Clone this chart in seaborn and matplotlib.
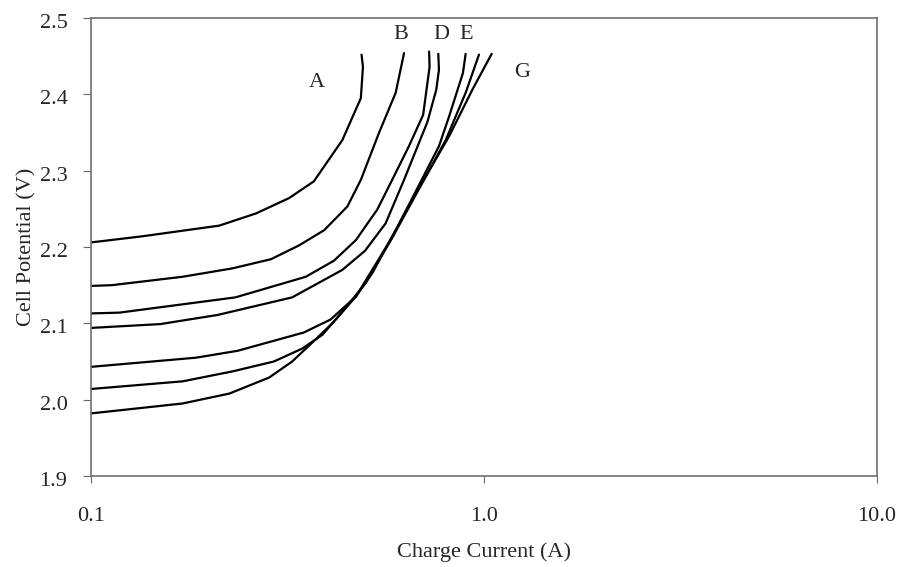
import numpy as np
import pandas as pd
import matplotlib
matplotlib.use("Agg")
import matplotlib.pyplot as plt
import matplotlib.transforms as mtransforms
import seaborn as sns

# ---- data ----
curve_A_x = [0.100, 0.135, 0.212, 0.263, 0.319, 0.369, 0.436, 0.486, 0.492, 0.488]
curve_A_y = [2.206, 2.214, 2.228, 2.244, 2.264, 2.286, 2.340, 2.395, 2.436, 2.452]

curve_B_x = [0.100, 0.113, 0.171, 0.229, 0.287, 0.338, 0.392, 0.449, 0.486, 0.541, 0.596, 0.626]
curve_B_y = [2.149, 2.150, 2.161, 2.172, 2.184, 2.202, 2.222, 2.253, 2.288, 2.350, 2.402, 2.454]

curve_C_x = [0.100, 0.118, 0.233, 0.352, 0.415, 0.472, 0.535, 0.584, 0.644, 0.700, 0.727, 0.725]
curve_C_y = [2.113, 2.114, 2.134, 2.161, 2.182, 2.209, 2.249, 2.288, 2.332, 2.373, 2.436, 2.456]

curve_D_x = [0.100, 0.150, 0.210, 0.325, 0.436, 0.498, 0.562, 0.626, 0.718, 0.756, 0.768, 0.765]
curve_D_y = [2.094, 2.099, 2.111, 2.134, 2.170, 2.195, 2.231, 2.288, 2.364, 2.406, 2.432, 2.453]

curve_E_x = [0.100, 0.185, 0.236, 0.348, 0.407, 0.472, 0.584, 0.768, 0.815, 0.884, 0.898]
curve_E_y = [2.043, 2.055, 2.064, 2.088, 2.105, 2.135, 2.213, 2.332, 2.371, 2.428, 2.453]

curve_F_x = [0.100, 0.171, 0.229, 0.292, 0.345, 0.388, 0.436, 0.500, 0.584, 0.799, 0.898, 0.971]
curve_F_y = [2.014, 2.024, 2.037, 2.050, 2.067, 2.085, 2.115, 2.153, 2.212, 2.340, 2.402, 2.452]

curve_G_x = [0.100, 0.171, 0.225, 0.284, 0.325, 0.373, 0.411, 0.472, 0.520, 0.584, 0.683, 0.815, 0.934, 1.046]
curve_G_y = [1.982, 1.995, 2.008, 2.029, 2.050, 2.079, 2.100, 2.135, 2.166, 2.214, 2.277, 2.345, 2.406, 2.453]

label_text = ["A", "B", "D", "E", "G"]
label_x = [0.376, 0.615, 0.777, 0.900, 1.249]
label_y = [2.416, 2.478, 2.478, 2.478, 2.428]

x_ticks = [0.1, 1.0, 10.0]
x_tick_labels = ["0.1", "1.0", "10.0"]
y_ticks = [1.9, 2.0, 2.1, 2.2, 2.3, 2.4, 2.5]
y_tick_labels = ["1.9", "2.0", "2.1", "2.2", "2.3", "2.4", "2.5"]

# ---- build long table ----
curves = {
    "A": (curve_A_x, curve_A_y), "B": (curve_B_x, curve_B_y),
    "C": (curve_C_x, curve_C_y), "D": (curve_D_x, curve_D_y),
    "E": (curve_E_x, curve_E_y), "F": (curve_F_x, curve_F_y),
    "G": (curve_G_x, curve_G_y),
}
rows = []
for name, (xs, ys) in curves.items():
    for i, (xv, yv) in enumerate(zip(xs, ys)):
        rows.append({"curve": name, "order": i, "current": xv, "potential": yv})
df = pd.DataFrame(rows)

sns.set_style("white")
plt.rcParams["font.family"] = ["Liberation Serif", "DejaVu Serif"]

fig = plt.figure(figsize=(8.97, 5.67), dpi=100)
ax = fig.add_axes([91/897, 1 - 476/567, (877-91)/897, (476-18)/567])

sns.lineplot(data=df, x="current", y="potential", hue="curve", units="curve",
             estimator=None, sort=False, palette=["black"] * 7,
             linewidth=1.6, legend=False, ax=ax)

ax.set_xscale("log")
ax.set_xlim(0.1, 10.0)
ax.set_ylim(1.9, 2.5)
ax.set_xticks(x_ticks)
ax.set_xticklabels(x_tick_labels)
ax.xaxis.set_minor_locator(matplotlib.ticker.NullLocator())
ax.set_yticks(y_ticks)
ax.set_yticklabels(y_tick_labels)

ax.tick_params(axis="x", which="major", direction="out", length=5, width=0.8,
               color="#666666", labelsize=16, pad=17, bottom=True)
ax.tick_params(axis="y", which="major", direction="out", length=6, width=0.8,
               color="#666666", labelsize=16, pad=11, left=True)

offset = mtransforms.ScaledTranslation(0, -3/100, fig.dpi_scale_trans)
for lab in ax.get_yticklabels():
    lab.set_transform(lab.get_transform() + offset)

for s in ax.spines.values():
    s.set_visible(True)
    s.set_color("#707070")
    s.set_linewidth(1.2)

ax.set_xlabel("Charge Current (A)", fontsize=16, labelpad=12)
ax.set_ylabel("Cell Potential (V)", fontsize=16, labelpad=2)

for t, xv, yv in zip(label_text, label_x, label_y):
    ax.text(xv, yv, t, fontsize=16, ha="center", va="center")

fig.savefig("out.png", dpi=100)
